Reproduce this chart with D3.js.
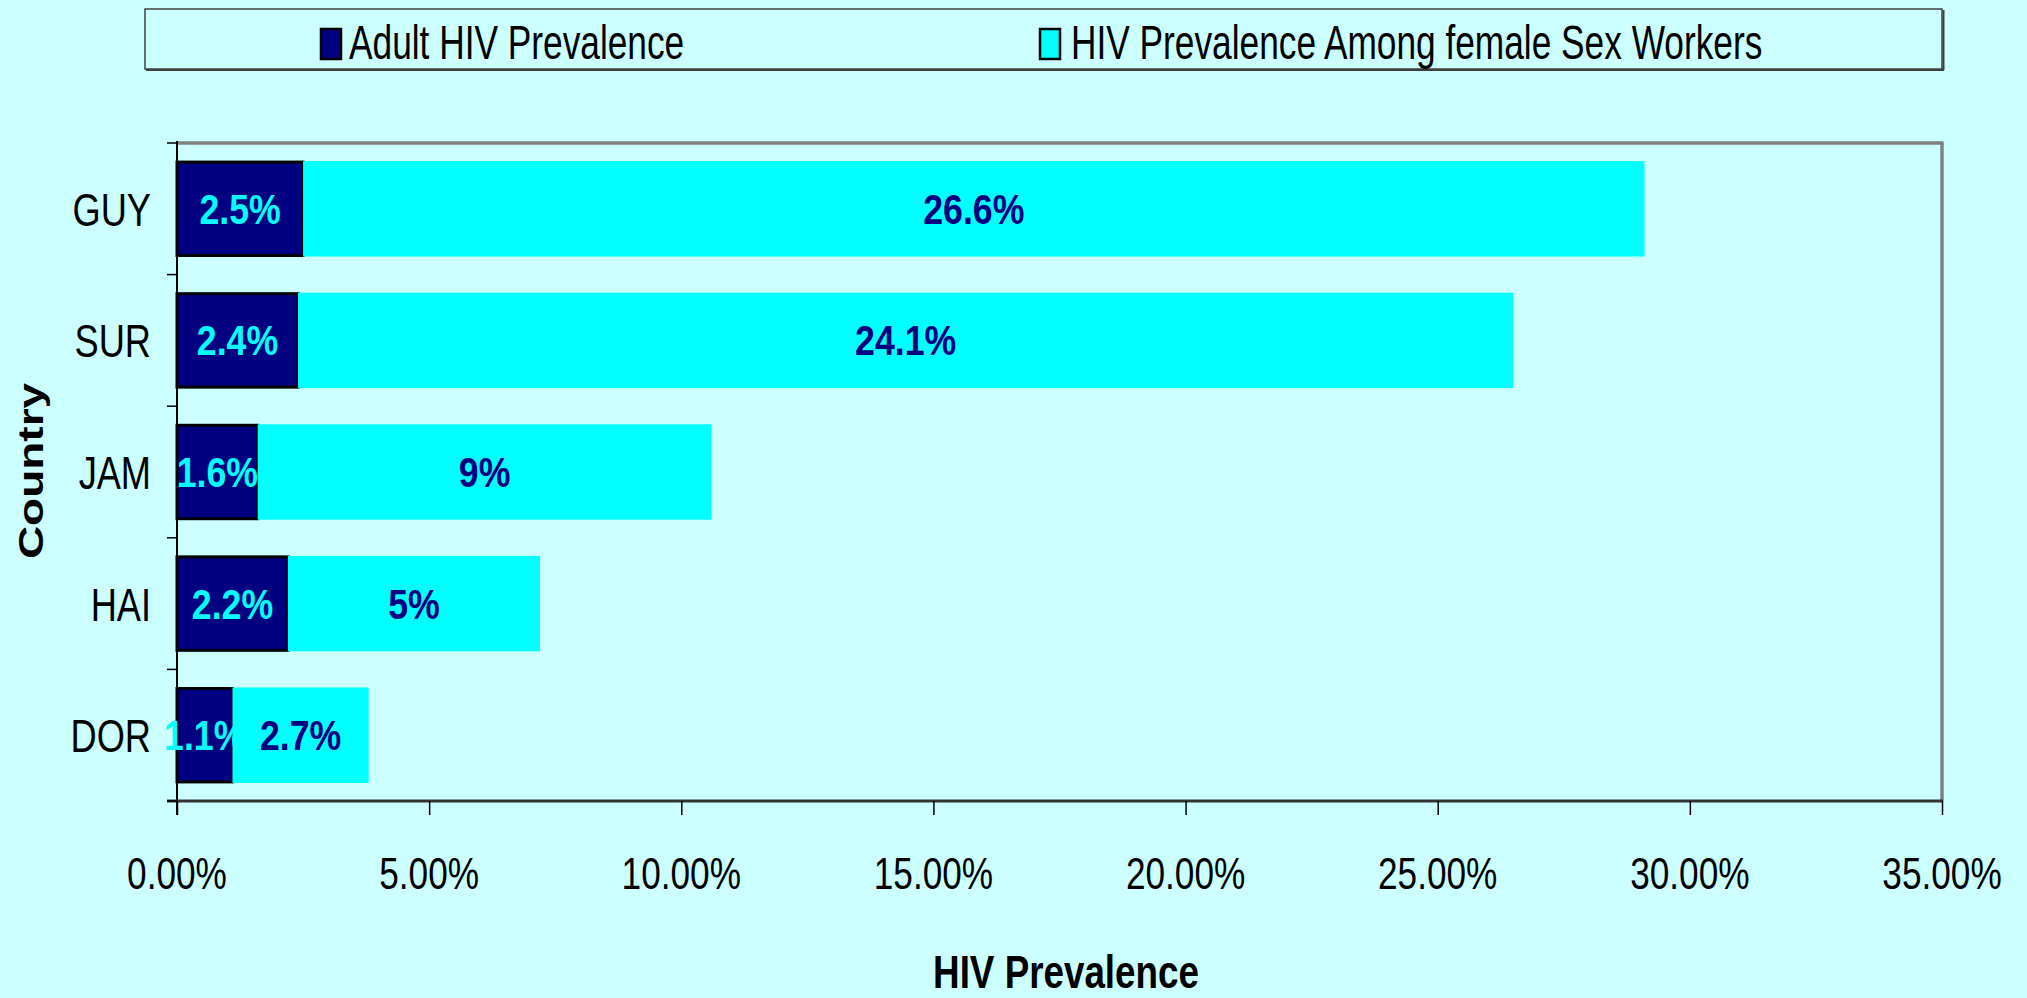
<!DOCTYPE html>
<html>
<head>
<meta charset="utf-8">
<script src="https://cdn.jsdelivr.net/npm/d3@7"></script>
<style>
  html, body { margin: 0; padding: 0; background: #CCFFFF; }
  svg { display: block; }
  text { font-family: "Liberation Sans", Arial, sans-serif; }
</style>
</head>
<body>
<svg id="chart" width="2027" height="998"></svg>
<script>
const categories = ["GUY", "SUR", "JAM", "HAI", "DOR"];
const adultValues = [2.5, 2.4, 1.6, 2.2, 1.1];
const fswValues = [26.6, 24.1, 9, 5, 2.7];
const adultLabels = ["2.5%", "2.4%", "1.6%", "2.2%", "1.1%"];
const fswLabels = ["26.6%", "24.1%", "9%", "5%", "2.7%"];
const xTickValues = [0, 5, 10, 15, 20, 25, 30, 35];
const xTickLabels = ["0.00%", "5.00%", "10.00%", "15.00%", "20.00%", "25.00%", "30.00%", "35.00%"];
const seriesNames = ["Adult HIV Prevalence", "HIV Prevalence Among female Sex Workers"];

const NAVY = "#000080", CYAN = "#00FFFF", BG = "#CCFFFF";
const svg = d3.select("#chart");
svg.append("rect").attr("width", 2027).attr("height", 998).attr("fill", BG);

const plot = { left: 177, right: 1942, top: 143, bottom: 801 };
const x = d3.scaleLinear().domain([0, 35]).range([plot.left, plot.right]);
const y = d3.scaleBand().domain(categories).range([plot.top, plot.bottom]).paddingInner(0.29).paddingOuter(0.145);

// squeezed text helper (the original's text is horizontally condensed)
function sText(parent, px, py, str, opts) {
  const g = parent.append("g").attr("transform", `translate(${px},${py}) scale(${opts.sx || 0.77},1)` + (opts.rotate ? ` rotate(${opts.rotate})` : ""));
  return g.append("text").attr("x", 0).attr("y", 0)
    .attr("text-anchor", opts.anchor || "middle")
    .attr("font-size", opts.size)
    .attr("font-weight", opts.weight || "normal")
    .attr("fill", opts.fill || "#000")
    .text(str);
}

// legend box
svg.append("rect").attr("x", 145).attr("y", 9).attr("width", 1797).attr("height", 60)
  .attr("fill", BG).attr("stroke", "#404040").attr("stroke-width", 1.5);
svg.append("line").attr("x1", 146).attr("x2", 1944).attr("y1", 70).attr("y2", 70).attr("stroke", "#404040").attr("stroke-width", 2);
svg.append("line").attr("x1", 1943.5).attr("x2", 1943.5).attr("y1", 10).attr("y2", 70).attr("stroke", "#404040").attr("stroke-width", 2);
const legendItems = [
  { name: seriesNames[0], color: NAVY, sx: 321, tx: 349 },
  { name: seriesNames[1], color: CYAN, sx: 1040, tx: 1071 }
];
legendItems.forEach(it => {
  svg.append("rect").attr("x", it.sx).attr("y", 29).attr("width", 20).attr("height", 30)
    .attr("fill", it.color).attr("stroke", "#000").attr("stroke-width", 2.5);
  sText(svg, it.tx, 59, it.name, { size: 48, anchor: "start", sx: 0.735 });
});

// plot area border (top & right gray)
svg.append("line").attr("x1", plot.left).attr("x2", plot.right + 1.5).attr("y1", plot.top).attr("y2", plot.top)
  .attr("stroke", "#808080").attr("stroke-width", 3.5);
svg.append("line").attr("x1", plot.right).attr("x2", plot.right).attr("y1", plot.top).attr("y2", plot.bottom)
  .attr("stroke", "#808080").attr("stroke-width", 3.5);

// bars
const rows = categories.map((c, i) => ({ c, a: adultValues[i], f: fswValues[i], al: adultLabels[i], fl: fswLabels[i] }));
const bars = svg.append("g");
bars.selectAll(".adult").data(rows).join("rect")
  .attr("x", x(0)).attr("y", d => y(d.c))
  .attr("width", d => x(d.a) - x(0)).attr("height", y.bandwidth())
  .attr("fill", NAVY).attr("stroke", "#000").attr("stroke-width", 3);
bars.selectAll(".fsw").data(rows).join("rect")
  .attr("x", d => x(d.a)).attr("y", d => y(d.c) - 1)
  .attr("width", d => x(d.a + d.f) - x(d.a)).attr("height", y.bandwidth() + 2)
  .attr("fill", CYAN);

// axes lines
svg.append("line").attr("x1", plot.left).attr("x2", plot.left).attr("y1", plot.top - 2).attr("y2", plot.bottom + 14)
  .attr("stroke", "#000").attr("stroke-width", 2);
svg.append("line").attr("x1", plot.left - 10).attr("x2", plot.right + 1).attr("y1", plot.bottom).attr("y2", plot.bottom)
  .attr("stroke", "#333").attr("stroke-width", 3);

// x axis ticks
const xAxis = d3.axisBottom(x).tickValues(xTickValues).tickSize(14).tickFormat("");
const gx = svg.append("g").attr("transform", `translate(0,${plot.bottom})`).call(xAxis);
gx.select(".domain").remove();
gx.selectAll(".tick line").attr("stroke", "#000").attr("stroke-width", 1.5);
xTickValues.forEach((v, i) => {
  sText(svg, x(v), 889, xTickLabels[i], { size: 44, sx: 0.8 });
});

// y axis ticks at category boundaries
const boundaries = categories.map(c => y(c) - y.step() * y.paddingInner() / 2).concat([plot.bottom]);
boundaries[0] = plot.top;
svg.append("g").selectAll("line").data(boundaries).join("line")
  .attr("x1", plot.left - 10).attr("x2", plot.left).attr("y1", d => d).attr("y2", d => d)
  .attr("stroke", "#000").attr("stroke-width", 1.5);
categories.forEach(c => {
  sText(svg, 151, y(c) + y.bandwidth() / 2 + 17, c, { size: 47, anchor: "end", sx: 0.77 });
});

// bar value labels
rows.forEach(d => {
  const cy = y(d.c) + y.bandwidth() / 2 + 15;
  sText(svg, (x(0) + x(d.a)) / 2, cy, d.al, { size: 43, weight: "bold", fill: CYAN, sx: 0.83 });
  sText(svg, (x(d.a) + x(d.a + d.f)) / 2, cy, d.fl, { size: 43, weight: "bold", fill: NAVY, sx: 0.83 });
});

// axis titles
sText(svg, 1066, 988, "HIV Prevalence", { size: 46, weight: "bold", sx: 0.8 });
sText(svg, 43, 471, "Country", { size: 46, weight: "bold", sx: 0.75, rotate: -90 });
</script>
</body>
</html>
